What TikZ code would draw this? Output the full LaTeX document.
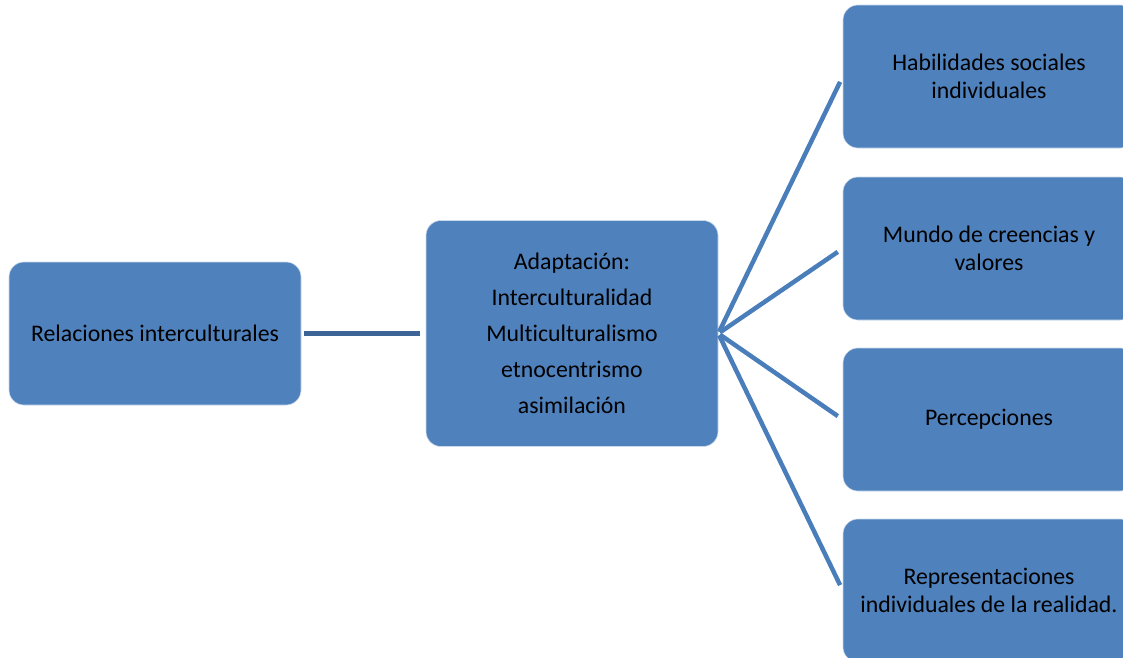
\documentclass[tikz,border=0pt]{standalone}
\usepackage{fontspec}
\setmainfont[Ligatures=NoCommon]{Carlito}
\definecolor{boxblue}{HTML}{4F81BD}
\definecolor{linkblue}{HTML}{3C6496}
\definecolor{fanblue}{HTML}{4A7EBB}
\begin{document}
\begin{tikzpicture}[x=1pt,y=-1pt,
  conceptbox/.style={rectangle, rounded corners=15pt, fill=boxblue, draw=white!70!boxblue, line width=0.6pt,
    minimum width=292pt, inner sep=0pt, align=center, text=black,
    font=\fontsize{23.8pt}{28pt}\selectfont},
  tallbox/.style={conceptbox, minimum height=226pt, font=\fontsize{23.8pt}{36pt}\selectfont},
  flatbox/.style={conceptbox, minimum height=143pt},
  fanline/.style={draw=fanblue, line width=4.5pt, shorten >=6pt, shorten <=2pt},
  linkline/.style={draw=linkblue, line width=5.5pt, shorten <=3pt, shorten >=6pt}]
\useasboundingbox (0,0) rectangle (1123,657);
\clip (0,0) rectangle (1123,657);
\node[flatbox] (rel) at (155,333.5) {Relaciones interculturales};
\node[tallbox] (adap) at (572,333.5) {Adaptación:\\Interculturalidad\\Multiculturalismo\\etnocentrismo\\asimilación};
\node[flatbox] (hab) at (989,76.5) {Habilidades sociales\\individuales};
\node[flatbox] (mun) at (989,248.5) {Mundo de creencias y\\valores};
\node[flatbox] (per) at (989,419.5) {Percepciones};
\node[flatbox] (rep) at (989,590.5) {Representaciones\\individuales de la realidad.};
\draw[linkline] (rel.east) -- (adap.west);
\foreach \t in {hab,mun,per,rep}
  \draw[fanline] (adap.east) -- (\t.west);
\end{tikzpicture}
\end{document}
